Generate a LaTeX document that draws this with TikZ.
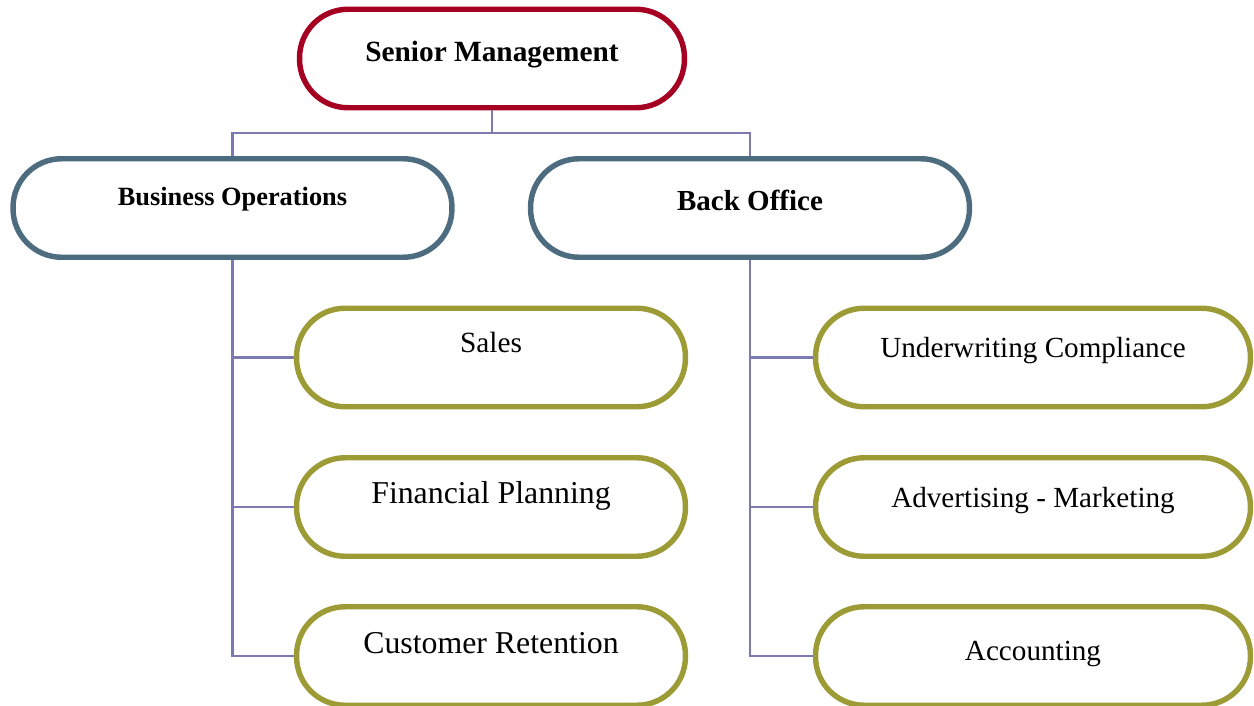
\documentclass[tikz,border=0pt]{standalone}
\usepackage{fontspec}
\setmainfont{Liberation Serif}

\definecolor{mgmtred}{HTML}{A50021}
\definecolor{deptblue}{HTML}{4E6C80}
\definecolor{unitolive}{HTML}{9C9B35}
\definecolor{linkpurple}{HTML}{7D79B2}

% text lifted from the centre line, with no height of its own
\newcommand{\raisedtext}[2]{\raisebox{#1}[0pt][0pt]{#2}}

\tikzset{
  pill/.style={draw, fill=white, line width=3.1pt, rounded corners=0.97cm,
    minimum height=1.97cm, inner sep=0pt},
  topbox/.style={pill, draw=mgmtred, minimum width=7.7cm,
    font=\fontsize{16.7pt}{20pt}\selectfont\bfseries},
  deptbox/.style={pill, draw=deptblue, minimum width=8.78cm},
  leftunit/.style={pill, draw=unitolive, minimum width=7.78cm},
  rightunit/.style={pill, draw=unitolive, minimum width=8.7cm,
    font=\fontsize{16.6pt}{20pt}\selectfont},
  link/.style={draw=linkpurple, line width=1.3pt}
}

\begin{document}
\begin{tikzpicture}[x=0.02cm,y=-0.02cm]
  \useasboundingbox (0,0) rectangle (1254,706);

  \node[topbox] (mgmt) at (492,58.5) {\raisedtext{-0.07cm}{Senior Management}};

  \node[deptbox, font=\fontsize{15pt}{18pt}\selectfont\bfseries] (busops) at (232.5,208)
    {\raisedtext{0.06cm}{Business Operations}};
  \node[deptbox, font=\fontsize{16.5pt}{20pt}\selectfont\bfseries] (backoff) at (750,208)
    {\raisedtext{-0.04cm}{Back Office}};

  \node[leftunit, font=\fontsize{16.7pt}{20pt}\selectfont] (sales) at (491,357.5)
    {\raisedtext{0.1cm}{Sales}};
  \node[leftunit, font=\fontsize{18.1pt}{22pt}\selectfont] (finplan) at (491,507)
    {\raisedtext{0.08cm}{Financial Planning}};
  \node[leftunit, font=\fontsize{18.1pt}{22pt}\selectfont] (custret) at (491,656)
    {\raisedtext{0.06cm}{Customer Retention}};

  \node[rightunit] (underw) at (1033,357.5) {\raisedtext{0cm}{Underwriting Compliance}};
  \node[rightunit] (advmkt) at (1033,507) {\raisedtext{0cm}{Advertising - Marketing}};
  \node[rightunit] (acct) at (1033,656) {\raisedtext{-0.08cm}{Accounting}};

  % connectors
  \coordinate (fork) at (492,133);
  \draw[link] (mgmt.south) -- (fork);
  \draw[link] (busops.north) |- (fork) -| (backoff.north);
  \draw[link] (busops.south) |- (sales.west);
  \draw[link] (busops.south) |- (finplan.west);
  \draw[link] (busops.south) |- (custret.west);
  \draw[link] (backoff.south) |- (underw.west);
  \draw[link] (backoff.south) |- (advmkt.west);
  \draw[link] (backoff.south) |- (acct.west);
\end{tikzpicture}
\end{document}
